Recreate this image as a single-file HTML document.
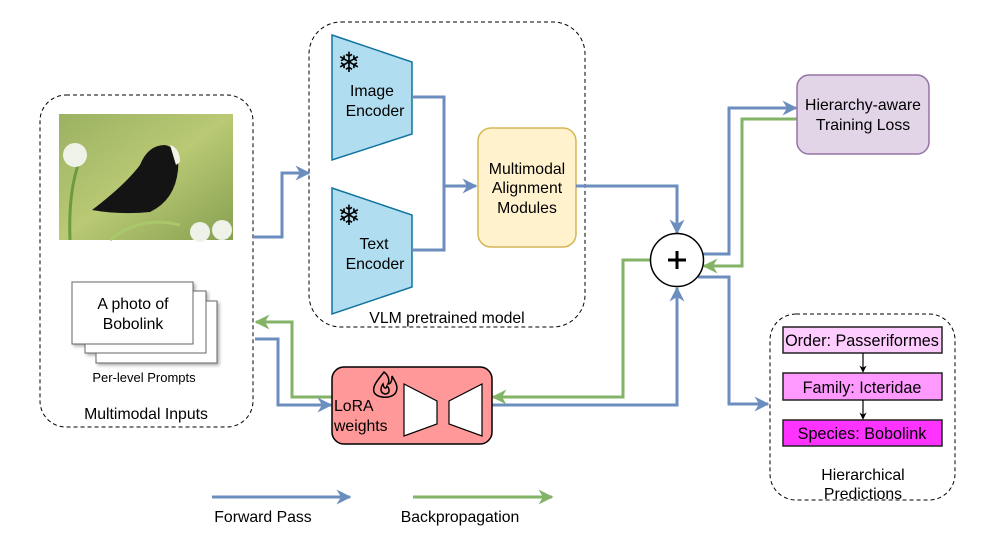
<!DOCTYPE html>
<html><head><meta charset="utf-8"><style>body{margin:0;background:#fff}svg{display:block;font-family:"Liberation Sans",sans-serif}</style></head><body>
<svg width="996" height="547" viewBox="0 0 996 547" xmlns="http://www.w3.org/2000/svg">
<defs>
<marker id="ab" viewBox="0 0 10 10" refX="9" refY="5" markerWidth="5" markerHeight="5" orient="auto-start-reverse" markerUnits="strokeWidth"><path d="M0,0 L10,5 L0,10 L3,5z" fill="#6c8ebf"/></marker>
<marker id="ag" viewBox="0 0 10 10" refX="9" refY="5" markerWidth="5" markerHeight="5" orient="auto-start-reverse" markerUnits="strokeWidth"><path d="M0,0 L10,5 L0,10 L3,5z" fill="#82b366"/></marker>
<marker id="ak" viewBox="0 0 10 10" refX="9" refY="5" markerWidth="6" markerHeight="6" orient="auto" markerUnits="strokeWidth"><path d="M0,0 L10,5 L0,10 L3,5z" fill="#000"/></marker>
<linearGradient id="bg" x1="0" y1="0" x2="1" y2="1"><stop offset="0" stop-color="#9bb262"/><stop offset="0.5" stop-color="#b9c974"/><stop offset="1" stop-color="#86a050"/></linearGradient>
<filter id="sh"><feDropShadow dx="2" dy="2" stdDeviation="1.5" flood-opacity="0.3"/></filter>
</defs>
<rect x="40" y="95" width="213" height="332" rx="26" fill="none" stroke="#000" stroke-dasharray="4 3"/>
<rect x="59" y="114" width="174" height="126" fill="url(#bg)"/>
<path d="M70,240 Q68,190 80,160" stroke="#6d9a3a" stroke-width="3" fill="none"/>
<path d="M110,240 Q140,215 180,225" stroke="#a8c86a" stroke-width="3" fill="none"/>
<circle cx="75" cy="155" r="12" fill="#eef2e8"/>
<circle cx="200" cy="232" r="10" fill="#eef2e8"/><circle cx="222" cy="230" r="10" fill="#eef2e8"/>
<path d="M92,210 Q125,185 140,165 Q148,145 165,145 Q180,148 178,170 Q175,200 150,212 Q120,215 92,210z" fill="#141414"/>
<path d="M170,145 Q180,148 180,162 L176,165z" fill="#f2f2e6"/>
<g filter="url(#sh)">
<rect x="96" y="301" width="121" height="62" fill="#fff" stroke="#666"/>
<rect x="85" y="291" width="121" height="62" fill="#fff" stroke="#666"/>
<rect x="72" y="282" width="121" height="62" fill="#fff" stroke="#666"/>
</g>
<rect x="309" y="22" width="276" height="305" rx="32" fill="none" stroke="#000" stroke-dasharray="4 3"/>
<polygon points="332,35 412,62 412,134 332,160" fill="#b1ddf0" stroke="#10739e" stroke-width="1.5"/>
<polygon points="332,188 412,215 412,287 332,314" fill="#b1ddf0" stroke="#10739e" stroke-width="1.5"/>
<text x="349" y="72" font-size="28" text-anchor="middle">❄</text>
<text x="349" y="225" font-size="28" text-anchor="middle">❄</text>
<g font-size="15.8" text-anchor="middle">
<text x="133" y="309">A photo of</text>
<text x="133" y="329">Bobolink</text>
<text x="146" y="419">Multimodal Inputs</text>
<text x="447" y="323">VLM pretrained model</text>
<text x="372" y="96">Image</text>
<text x="375" y="116">Encoder</text>
<text x="374" y="249">Text</text>
<text x="375" y="269">Encoder</text>
</g>
<text x="144" y="382" font-size="13" text-anchor="middle">Per-level Prompts</text>
<rect x="478" y="128" width="98" height="119" rx="13" fill="#fff2cc" stroke="#d6b656" stroke-width="1.5"/>
<g font-size="15.8" text-anchor="middle">
<text x="527" y="174">Multimodal</text>
<text x="527" y="193">Alignment</text>
<text x="527" y="213">Modules</text>
</g>
<g fill="none" stroke-width="3">
<path d="M412,97 H444 V250 H412" stroke="#6c8ebf"/>
<path d="M444,186 H476" stroke="#6c8ebf" marker-end="url(#ab)"/>
<path d="M253,237 H282 V173 H309" stroke="#6c8ebf" marker-end="url(#ab)"/>
<path d="M332,397 H292 V322 H256" stroke="#82b366" marker-end="url(#ag)"/>
<path d="M255,339 H278 V405 H331" stroke="#6c8ebf" marker-end="url(#ab)"/>
<path d="M576,186 H677 V233" stroke="#6c8ebf" marker-end="url(#ab)"/>
<path d="M492,405 H677 V288" stroke="#6c8ebf" marker-end="url(#ab)"/>
<path d="M651,260 H623 V397 H493" stroke="#82b366" marker-end="url(#ag)"/>
<path d="M702,254 H729 V108 H796" stroke="#6c8ebf" marker-end="url(#ab)"/>
<path d="M797,119 H742 V266 H704" stroke="#82b366" marker-end="url(#ag)"/>
<path d="M698,277 H729 V404 H768" stroke="#6c8ebf" marker-end="url(#ab)"/>
<path d="M212,497 H350" stroke="#6c8ebf" marker-end="url(#ab)"/>
<path d="M413,497 H552" stroke="#82b366" marker-end="url(#ag)"/>
</g>
<circle cx="677" cy="260" r="26.5" fill="#fff" stroke="#000" stroke-width="1.5"/>
<path d="M668,260 H686 M677,251 V269" stroke="#000" stroke-width="3"/>
<rect x="332" y="367" width="160" height="77" rx="12" fill="#ff9999" stroke="#000" stroke-width="1.5"/>
<path d="M384,372 C378,380 372,386 374,392 C376,398 392,400 396,392 C399,386 394,380 392,376 C392,382 390,384 388,384 C390,380 388,375 384,372z M383,384 C380,388 380,393 385,394 C390,394 390,389 387,386 C386,389 384,389 383,384z" fill="none" stroke="#000" stroke-width="1.5"/>
<text x="334" y="411" font-size="15.8">LoRA</text>
<text x="334" y="431" font-size="15.8">weights</text>
<polygon points="404,384 437,401 437,424 404,436" fill="#fff" stroke="#000" stroke-width="1.2"/>
<polygon points="482,384 449,401 449,424 482,436" fill="#fff" stroke="#000" stroke-width="1.2"/>
<rect x="797" y="75" width="132" height="79" rx="12" fill="#e1d5e7" stroke="#9673a6" stroke-width="1.5"/>
<g font-size="15.8" text-anchor="middle">
<text x="863" y="110">Hierarchy-aware</text>
<text x="863" y="130">Training Loss</text>
</g>
<rect x="770" y="314" width="185" height="186" rx="26" fill="none" stroke="#000" stroke-dasharray="4 3"/>
<rect x="783" y="327" width="159" height="26" fill="#ffccff" stroke="#222" stroke-width="1.5"/>
<rect x="783" y="373" width="159" height="27" fill="#ff99ff" stroke="#222" stroke-width="1.5"/>
<rect x="783" y="420" width="159" height="26" fill="#ff33ff" stroke="#222" stroke-width="1.5"/>
<path d="M863,353 V372" stroke="#000" stroke-width="1.2" marker-end="url(#ak)"/>
<path d="M863,400 V419" stroke="#000" stroke-width="1.2" marker-end="url(#ak)"/>
<g font-size="16.2" text-anchor="middle">
<text x="862" y="346">Order: Passeriformes</text>
<text x="862" y="393">Family: Icteridae</text>
<text x="862" y="439">Species: Bobolink</text>
</g>
<g font-size="15.8" text-anchor="middle">
<text x="863" y="480">Hierarchical</text>
<text x="863" y="499">Predictions</text>
<text x="263" y="522">Forward Pass</text>
<text x="460" y="522">Backpropagation</text>
</g>
</svg>
</body></html>
